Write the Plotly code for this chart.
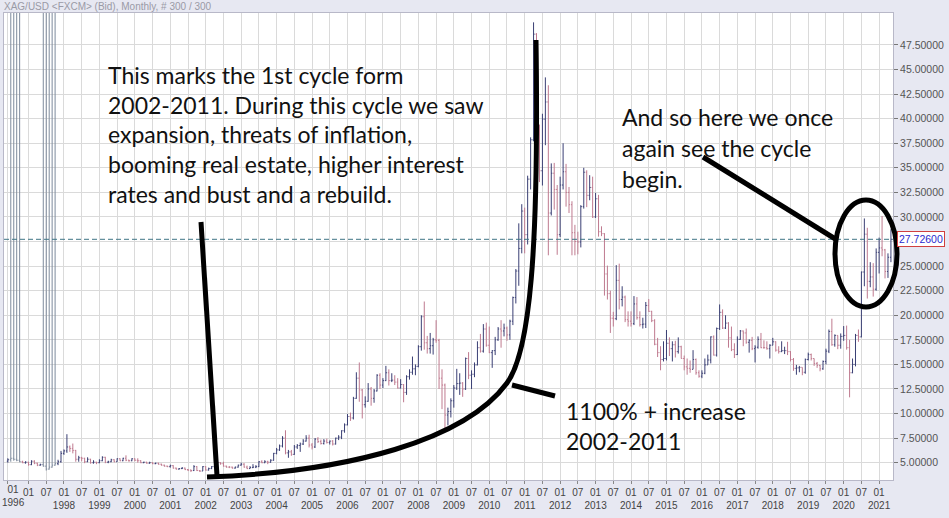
import plotly.graph_objects as go

# ---------------- data ----------------
months = (["1996-%02d" % m for m in range(1, 8)] +
          ["%d-%02d" % (y, m) for y in range(1997, 2021) for m in range(1, 13)] +
          ["2021-%02d" % m for m in range(1, 6)])

opens = [
    5.15, 5.30, 5.45, 5.35, 5.25, 5.10, 5.00,
    5.05, 4.80, 5.15, 4.95, 4.75, 4.80, 4.65, 4.35, 4.55, 4.75, 4.90, 5.10,
    5.95, 6.20, 6.60, 6.45, 6.25, 5.35, 5.50, 5.45, 5.10, 5.35, 5.00, 5.05,
    5.00, 5.20, 5.55, 5.05, 5.10, 5.30, 5.10, 5.40, 5.20, 5.45, 5.25, 5.20,
    5.40, 5.25, 5.20, 5.00, 5.05, 4.95, 5.00, 4.90, 4.95, 4.85, 4.75, 4.65,
    4.60, 4.70, 4.45, 4.35, 4.40, 4.45, 4.30, 4.25, 4.20, 4.60, 4.20, 4.15,
    4.60, 4.25, 4.40, 4.60, 4.60, 5.00, 4.90, 4.65, 4.55, 4.55, 4.45, 4.55,
    4.75, 4.85, 4.55, 4.40, 4.50, 4.55, 4.60, 5.10, 5.00, 5.10, 5.05, 5.25,
    5.95, 6.30, 6.70, 7.50, 6.00, 6.10, 5.85, 6.60, 6.75, 6.90, 7.20, 7.50,
    6.80, 6.60, 7.40, 7.15, 6.95, 7.20, 7.05, 7.20, 6.90, 7.50, 7.60, 8.25,
    8.85, 9.70, 9.55, 11.55, 13.60, 12.40, 10.90, 11.25, 12.50, 11.55, 12.30, 13.90,
    12.90, 13.35, 14.15, 13.35, 13.40, 13.20, 12.60, 12.95, 12.15, 13.75, 14.20, 14.55,
    14.80, 16.80, 19.85, 17.20, 16.60, 16.90, 17.50, 17.45, 13.60, 12.90, 9.85, 10.20,
    11.30, 12.60, 13.05, 13.10, 12.50, 15.60, 13.90, 14.00, 14.95, 16.70, 16.35, 18.60,
    16.95, 16.20, 16.40, 17.50, 18.60, 18.40, 18.70, 18.00, 19.40, 21.80, 24.50, 26.80,
    30.60, 28.20, 33.85, 37.85, 48.60, 38.40, 34.70, 39.95, 41.70, 30.40, 34.45, 32.80,
    28.20, 33.25, 34.60, 32.50, 31.25, 28.40, 27.50, 27.45, 31.05, 34.55, 32.20, 33.00,
    30.00, 31.85, 28.50, 28.30, 24.20, 22.20, 19.70, 19.65, 23.55, 21.60, 21.85, 19.55,
    19.40, 19.15, 21.15, 19.75, 19.05, 19.10, 21.00, 20.40, 19.45, 17.05, 16.20, 15.50,
    15.60, 17.15, 16.60, 17.00, 16.30, 16.80, 15.60, 14.75, 14.60, 14.50, 15.50, 14.15,
    13.80, 14.10, 14.95, 15.45, 17.80, 15.95, 18.65, 20.30, 18.70, 19.20, 17.70, 16.50,
    16.00, 17.55, 18.40, 18.20, 17.25, 17.45, 16.60, 16.75, 17.55, 16.70, 16.70, 16.60,
    16.95, 17.30, 16.45, 16.30, 16.40, 16.40, 16.30, 15.50, 14.60, 14.65, 14.70, 14.20,
    15.50, 16.00, 15.60, 15.10, 14.90, 14.55, 15.30, 16.35, 18.35, 17.00, 17.95, 16.95,
    17.85, 17.95, 16.70, 14.15, 15.00, 17.95, 17.80, 24.40, 28.25, 23.45, 23.90, 22.65,
    26.40, 26.85, 26.65, 24.45, 25.90,
]
highs = [
    5.45, 99.0, 99.0, 99.0, 99.0, 5.20, 5.15,
    5.10, 5.25, 5.25, 5.00, 4.90, 99.0, 99.0, 99.0, 99.0, 99.0, 5.30, 6.20,
    6.35, 7.90, 6.75, 6.95, 6.30, 5.70, 5.60, 5.50, 5.55, 5.40, 5.25, 5.10,
    5.35, 5.65, 5.60, 5.20, 5.40, 5.35, 5.45, 5.45, 5.50, 5.75, 5.30, 5.45,
    5.45, 5.45, 5.25, 5.10, 5.10, 5.10, 5.05, 5.00, 5.00, 4.90, 4.80, 4.70,
    4.80, 4.75, 4.50, 4.45, 4.55, 4.50, 4.35, 4.30, 4.75, 4.65, 4.25, 4.65,
    4.65, 4.50, 4.65, 4.65, 5.10, 5.05, 5.10, 4.70, 4.65, 4.60, 4.60, 4.80,
    5.00, 4.95, 4.70, 4.65, 4.85, 4.75, 5.15, 5.25, 5.25, 5.20, 5.35, 6.00,
    6.50, 6.85, 7.70, 8.30, 6.30, 6.30, 6.80, 6.90, 7.05, 7.40, 7.80, 7.85,
    7.00, 7.50, 7.60, 7.35, 7.40, 7.45, 7.25, 7.30, 7.55, 7.80, 8.30, 9.00,
    9.95, 10.10, 11.70, 14.20, 15.20, 12.50, 11.75, 13.10, 12.70, 12.50, 14.00, 14.10,
    13.60, 14.85, 14.50, 14.10, 13.90, 13.60, 13.50, 13.00, 13.90, 14.50, 15.80, 15.00,
    16.95, 20.00, 21.40, 17.90, 18.20, 17.70, 19.50, 17.60, 14.50, 13.05, 10.60, 11.55,
    12.90, 14.55, 14.10, 13.20, 15.70, 16.25, 14.40, 15.20, 17.35, 18.10, 19.10, 19.25,
    18.85, 16.45, 17.80, 18.80, 19.50, 19.15, 18.85, 19.55, 21.90, 24.70, 29.35, 31.30,
    30.95, 34.20, 38.10, 49.80, 48.70, 39.40, 40.50, 44.20, 43.40, 35.45, 35.50, 33.25,
    34.10, 37.50, 35.40, 33.05, 31.60, 29.20, 28.50, 31.20, 35.00, 34.75, 34.25, 34.10,
    32.45, 32.25, 29.05, 28.35, 25.05, 22.50, 20.35, 25.10, 25.25, 22.95, 22.00, 20.40,
    20.40, 21.95, 21.85, 20.40, 19.75, 21.35, 21.65, 20.45, 19.60, 17.70, 16.85, 17.35,
    18.50, 17.75, 17.35, 17.40, 17.75, 16.90, 15.90, 15.60, 15.40, 16.45, 15.60, 14.40,
    14.40, 15.60, 16.00, 17.85, 17.95, 18.75, 21.10, 20.60, 20.00, 19.30, 18.85, 17.15,
    17.85, 18.50, 18.45, 18.65, 17.55, 17.80, 16.95, 17.85, 18.20, 17.45, 17.35, 17.05,
    17.70, 17.35, 16.85, 17.35, 16.80, 17.30, 16.35, 15.65, 14.95, 14.85, 14.70, 15.60,
    16.20, 16.10, 15.60, 15.25, 14.95, 15.40, 16.60, 18.55, 19.65, 18.05, 17.95, 18.15,
    18.90, 18.95, 17.50, 15.60, 18.10, 18.55, 24.45, 29.85, 28.90, 25.40, 25.30, 26.80,
    27.90, 30.10, 26.75, 26.30, 28.75,
]
lows = [
    5.00, 5.10, 5.20, 5.15, 5.05, 4.95, 4.90,
    4.70, 4.75, 4.85, 4.65, 4.70, 4.60, 4.20, 4.30, 4.50, 4.70, 4.75, 5.00,
    5.80, 6.00, 6.10, 5.95, 5.10, 5.10, 5.15, 4.95, 5.05, 4.90, 4.90, 4.85,
    4.95, 5.15, 4.95, 4.95, 5.05, 5.05, 5.10, 5.15, 5.15, 5.15, 5.10, 5.15,
    5.15, 5.00, 4.95, 4.95, 4.90, 4.90, 4.85, 4.85, 4.80, 4.70, 4.60, 4.55,
    4.50, 4.40, 4.30, 4.30, 4.35, 4.25, 4.15, 4.05, 4.15, 4.15, 4.05, 4.15,
    4.20, 4.20, 4.35, 4.50, 4.55, 4.80, 4.60, 4.50, 4.45, 4.40, 4.40, 4.50,
    4.70, 4.50, 4.35, 4.40, 4.45, 4.45, 4.55, 4.95, 4.95, 4.85, 5.00, 5.20,
    5.85, 6.20, 6.55, 5.85, 5.50, 5.70, 5.80, 6.40, 6.10, 6.80, 7.15, 6.55,
    6.35, 6.50, 7.00, 6.85, 6.85, 6.95, 6.85, 6.75, 6.85, 7.30, 7.40, 8.05,
    8.80, 9.25, 9.40, 11.50, 11.20, 9.50, 10.60, 11.20, 10.80, 11.10, 12.25, 12.50,
    12.60, 13.30, 12.85, 13.20, 12.90, 12.55, 12.55, 11.15, 11.90, 13.45, 13.95, 13.90,
    14.70, 16.40, 16.50, 16.10, 16.10, 16.00, 17.20, 12.50, 10.45, 8.45, 8.80, 9.60,
    10.60, 12.40, 11.90, 11.70, 12.40, 13.50, 12.50, 13.70, 14.90, 16.20, 16.20, 16.80,
    16.15, 14.65, 15.95, 17.40, 16.70, 17.85, 17.40, 17.50, 19.00, 21.20, 23.00, 26.30,
    26.30, 27.20, 32.80, 37.70, 32.35, 33.55, 33.20, 37.30, 26.10, 30.15, 30.75, 26.15,
    27.95, 32.80, 31.05, 30.40, 26.10, 26.10, 26.20, 26.90, 30.85, 31.00, 31.70, 29.90,
    29.90, 28.00, 28.05, 22.00, 21.60, 18.20, 18.85, 19.50, 20.60, 20.90, 19.30, 18.85,
    18.85, 19.00, 19.55, 18.85, 18.65, 18.70, 20.35, 19.30, 16.95, 15.75, 14.40, 15.30,
    15.40, 15.85, 15.30, 15.70, 16.10, 15.60, 14.40, 13.95, 14.15, 14.50, 13.95, 13.65,
    13.60, 14.00, 14.95, 15.10, 15.90, 15.80, 18.50, 18.60, 18.60, 16.70, 16.35, 15.65,
    15.95, 17.50, 16.85, 17.10, 16.20, 16.45, 15.20, 16.60, 16.65, 16.60, 16.50, 15.60,
    16.95, 16.30, 16.10, 16.25, 16.05, 15.95, 15.30, 14.35, 13.95, 14.20, 13.90, 14.05,
    15.40, 15.40, 14.85, 14.65, 14.30, 14.45, 15.00, 16.15, 16.90, 16.80, 16.55, 16.60,
    17.40, 16.50, 11.65, 14.10, 14.80, 17.30, 17.75, 22.95, 21.70, 22.85, 21.90, 22.50,
    24.25, 26.00, 23.75, 23.80, 25.40,
]
closes = [
    5.30, 5.45, 5.35, 5.25, 5.10, 5.00, 5.05,
    4.80, 5.15, 4.95, 4.75, 4.80, 4.65, 4.35, 4.55, 4.75, 4.90, 5.10, 5.95,
    6.20, 6.60, 6.45, 6.25, 5.35, 5.50, 5.45, 5.10, 5.35, 5.00, 5.05, 5.00,
    5.20, 5.55, 5.05, 5.10, 5.30, 5.10, 5.40, 5.20, 5.45, 5.25, 5.20, 5.40,
    5.25, 5.20, 5.00, 5.05, 4.95, 5.00, 4.90, 4.95, 4.85, 4.75, 4.65, 4.60,
    4.70, 4.45, 4.35, 4.40, 4.45, 4.30, 4.25, 4.20, 4.60, 4.20, 4.15, 4.60,
    4.25, 4.40, 4.60, 4.60, 5.00, 4.90, 4.65, 4.55, 4.55, 4.45, 4.55, 4.75,
    4.85, 4.55, 4.40, 4.50, 4.55, 4.60, 5.10, 5.00, 5.10, 5.05, 5.25, 5.95,
    6.30, 6.70, 7.50, 6.00, 6.10, 5.85, 6.60, 6.75, 6.90, 7.20, 7.50, 6.80,
    6.60, 7.40, 7.15, 6.95, 7.20, 7.05, 7.20, 6.90, 7.50, 7.60, 8.25, 8.85,
    9.70, 9.55, 11.55, 13.60, 12.40, 10.90, 11.25, 12.50, 11.55, 12.30, 13.90, 12.90,
    13.35, 14.15, 13.35, 13.40, 13.20, 12.60, 12.95, 12.15, 13.75, 14.20, 14.55, 14.80,
    16.80, 19.85, 17.20, 16.60, 16.90, 17.50, 17.45, 13.60, 12.90, 9.85, 10.20, 11.30,
    12.60, 13.05, 13.10, 12.50, 15.60, 13.90, 14.00, 14.95, 16.70, 16.35, 18.60, 16.95,
    16.20, 16.40, 17.50, 18.60, 18.40, 18.70, 18.00, 19.40, 21.80, 24.50, 26.80, 30.60,
    28.20, 33.85, 37.85, 48.60, 38.40, 34.70, 39.95, 41.70, 30.40, 34.45, 32.80, 28.20,
    33.25, 34.60, 32.50, 31.25, 28.40, 27.50, 27.45, 31.05, 34.55, 32.20, 33.00, 30.00,
    31.85, 28.50, 28.30, 24.20, 22.20, 19.70, 19.65, 23.55, 21.60, 21.85, 19.55, 19.40,
    19.15, 21.15, 19.75, 19.05, 19.10, 21.00, 20.40, 19.45, 17.05, 16.20, 15.50, 15.60,
    17.15, 16.60, 17.00, 16.30, 16.80, 15.60, 14.75, 14.60, 14.50, 15.50, 14.15, 13.80,
    14.10, 14.95, 15.45, 17.80, 15.95, 18.65, 20.30, 18.70, 19.20, 17.70, 16.50, 16.00,
    17.55, 18.40, 18.20, 17.25, 17.45, 16.60, 16.75, 17.55, 16.70, 16.70, 16.60, 16.95,
    17.30, 16.45, 16.30, 16.40, 16.40, 16.30, 15.50, 14.60, 14.65, 14.70, 14.20, 15.50,
    16.00, 15.60, 15.10, 14.90, 14.55, 15.30, 16.35, 18.35, 17.00, 17.95, 16.95, 17.85,
    17.95, 16.70, 14.15, 15.00, 17.95, 17.80, 24.40, 28.25, 23.45, 23.90, 22.65, 26.40,
    26.85, 26.65, 24.45, 25.90, 27.73,
]

last_price = 27.726
y_ticks = [5.0, 7.5, 10.0, 12.5, 15.0, 17.5, 20.0, 22.5, 25.0, 27.5, 30.0, 32.5,
           35.0, 37.5, 40.0, 42.5, 45.0, 47.5]

# x tick labels: "01"/"07" months, year under January
tick_months = [m for m in months if m[5:] in ("01", "07") and m != "1996-07"]
tick_idx = [months.index(m) for m in tick_months]
tick_text = [(m[5:] + "<br>" + m[:4]) if (m[5:] == "01" and m[:4] != "1997") else m[5:]
             for m in tick_months]
# the first label sits on the chart's left edge: draw it as a left-anchored note
first_label = tick_text[0]
tick_text[0] = ""

title_text = "XAG/USD &lt;FXCM&gt; (Bid), Monthly, # 300 / 300"
note_left = ["This marks the 1st cycle form",
             "2002-2011. During this cycle we saw",
             "expansion, threats of inflation,",
             "booming real estate, higher interest",
             "rates and bust and a rebuild."]
note_right = ["And so here we once", "again see the cycle", "begin."]
note_mid = ["1100% + increase", "2002-2011"]

# ---------------- figure ----------------
W, H = 949, 518
PL, PR, PT, PB = 4, 893, 13, 480
Y_RANGE = [3.24, 50.75]


def px(xp):
    return (xp - PL) / (PR - PL)


def py(yp):
    return (PB - yp) / (PB - PT)


x_idx = list(range(len(months)))
# bars whose recorded high lies far above the chart (bad ticks in the feed)
bad = [i for i in x_idx if highs[i] > Y_RANGE[1]]
good = [i for i in x_idx if i not in bad]


def pick(arr, sel):
    return [arr[i] for i in sel]


fig = go.Figure()
fig.add_trace(go.Ohlc(
    x=pick(x_idx, good), open=pick(opens, good), high=pick(highs, good),
    low=pick(lows, good), close=pick(closes, good),
    increasing=dict(line=dict(color="#3a3f74", width=1)),
    decreasing=dict(line=dict(color="#bf7a8f", width=1)),
    tickwidth=0.35, showlegend=False, hoverinfo="skip"))
fig.add_trace(go.Ohlc(
    x=pick(x_idx, bad), open=pick(opens, bad), high=pick(highs, bad),
    low=pick(lows, bad), close=pick(closes, bad),
    increasing=dict(line=dict(color="#7d8a9c", width=1)),
    decreasing=dict(line=dict(color="#7d8a9c", width=1)),
    tickwidth=0.35, showlegend=False, hoverinfo="skip"))

y_text = ["" if abs(v - last_price) < 0.5 else "%.5f" % v for v in y_ticks]

fig.update_layout(
    width=W, height=H,
    margin=dict(l=PL, r=W - PR, t=PT, b=H - PB, autoexpand=False),
    paper_bgcolor="#e7e8f2", plot_bgcolor="#ffffff",
    font=dict(family="Liberation Sans, Arial, sans-serif", size=10, color="#444"),
    xaxis=dict(range=[-1.3, 299.7], rangeslider=dict(visible=False),
               tickmode="array", tickvals=tick_idx, ticktext=tick_text,
               tickangle=0, automargin=False, ticklabeloverflow="allow",
               ticks="outside", ticklen=3, tickcolor="#888",
               showgrid=True, gridcolor="#dadada", gridwidth=1,
               showline=True, linecolor="#b8b8c8", mirror=True, zeroline=False,
               tickfont=dict(size=10, color="#444")),
    yaxis=dict(range=Y_RANGE, side="right", tickmode="array",
               tickvals=y_ticks, ticktext=y_text, automargin=False,
               ticks="outside", ticklen=4, tickcolor="#777",
               showgrid=True, gridcolor="#dadada", gridwidth=1,
               showline=True, linecolor="#b8b8c8", mirror=True, zeroline=False,
               tickfont=dict(size=10.5, color="#555")),
)

# first x label (left edge)
fig.add_annotation(xref="paper", yref="paper", x=0, y=0, xanchor="left",
                   yanchor="top", xshift=-3, yshift=-3, text=first_label,
                   showarrow=False, align="center", borderpad=0,
                   font=dict(size=10, color="#444"))

# last price dashed line + label box
fig.add_shape(type="line", xref="paper", yref="y", x0=0, x1=1,
              y0=last_price, y1=last_price,
              line=dict(color="#3f7585", width=1, dash="5px,3px"))
fig.add_annotation(xref="paper", yref="y", x=1, y=last_price, xanchor="left",
                   xshift=4, text="%.5f" % last_price, showarrow=False,
                   font=dict(size=10.5, color="#2a2ad0"),
                   bgcolor="#ffffff", bordercolor="#d04040", borderwidth=1,
                   borderpad=1)

# title
fig.add_annotation(xref="paper", yref="paper", x=px(2), y=py(7), xanchor="left",
                   yanchor="middle", text=title_text, showarrow=False,
                   font=dict(size=10, color="#9a9aa6"))

# hand-drawn markup
BLACK = dict(color="#000000", width=5)
fig.add_shape(type="line", xref="paper", yref="paper",
              x0=px(201), y0=py(222), x1=px(217), y1=py(476), line=BLACK)
curve = ("M %f,%f C %f,%f %f,%f %f,%f C %f,%f %f,%f %f,%f" % (
    px(207), py(477), px(350), py(472), px(465), py(440), px(507), py(383),
    px(530), py(352), px(539), py(250), px(536), py(40)))
fig.add_shape(type="path", xref="paper", yref="paper", path=curve, line=BLACK)
fig.add_shape(type="line", xref="paper", yref="paper",
              x0=px(512), y0=py(385), x1=px(555), y1=py(396), line=BLACK)
fig.add_shape(type="line", xref="paper", yref="paper",
              x0=px(703), y0=py(157), x1=px(837), y1=py(240), line=BLACK)
fig.add_shape(type="circle", xref="paper", yref="paper",
              x0=px(835), x1=px(897), y0=py(307), y1=py(200), line=BLACK)

TXT = dict(family="Lato, Carlito, sans-serif", size=23, color="#111111")
for i, t in enumerate(note_left):
    fig.add_annotation(xref="paper", yref="paper", x=px(106), y=py(75 + 29.7 * i),
                       xanchor="left", yanchor="middle", text=t, showarrow=False, font=TXT)
for i, t in enumerate(note_right):
    fig.add_annotation(xref="paper", yref="paper", x=px(620), y=py(117 + 31 * i),
                       xanchor="left", yanchor="middle", text=t, showarrow=False, font=TXT)
for i, t in enumerate(note_mid):
    fig.add_annotation(xref="paper", yref="paper", x=px(564), y=py(411 + 29.5 * i),
                       xanchor="left", yanchor="middle", text=t, showarrow=False, font=TXT)

fig.write_html("out.html", config={"displayModeBar": False},
               post_script="document.body.style.margin='0';"
                           "document.documentElement.style.overflow='hidden';")
